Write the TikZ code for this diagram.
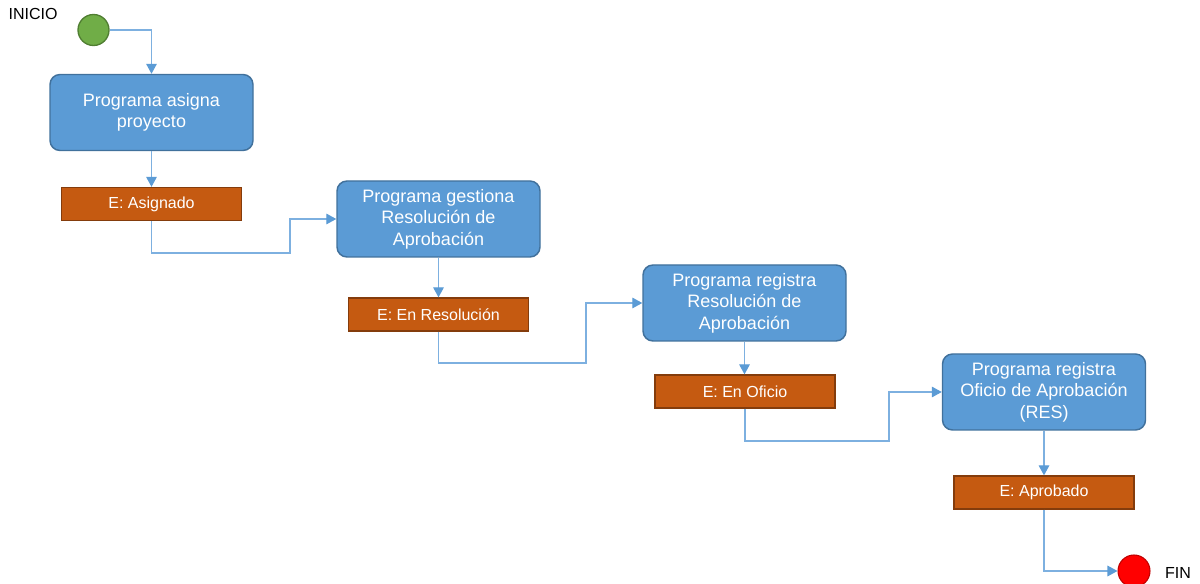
\documentclass[tikz,border=0pt]{standalone}
\usepackage{fontspec}
\setmainfont{Liberation Sans}
\usetikzlibrary{arrows.meta}
\definecolor{boxfill}{HTML}{5B9BD5}
\definecolor{boxline}{HTML}{41719C}
\definecolor{estfill}{HTML}{C55A11}
\definecolor{estline}{HTML}{843C0C}
\definecolor{conn}{HTML}{7DB0E0}
\definecolor{conntip}{HTML}{5B9BD5}
\definecolor{startfill}{HTML}{70AD47}
\definecolor{startline}{HTML}{507E32}
\definecolor{endfill}{HTML}{FF0000}
\definecolor{endline}{HTML}{C00000}
\tikzset{
  procbox/.style={draw=boxline, fill=boxfill, line width=1.1pt, rounded corners=7.5pt,
    minimum width=152.25pt, minimum height=57pt, align=center, text=white,
    font=\fontsize{13.5}{16.2}\selectfont, inner sep=0pt},
  estbox/.style={draw=estline, fill=estfill, line width=1pt,
    minimum width=135pt, minimum height=24.75pt, align=center, text=white,
    font=\fontsize{12}{14}\selectfont, inner sep=0pt},
  conline/.style={draw=conn, line width=0.8pt, -{Triangle[width=8pt,length=7.5pt,color=conntip]}},
  lbl/.style={font=\fontsize{12}{14}\selectfont, text=black, inner sep=0pt}
}
\begin{document}
\begin{tikzpicture}[x=0.75pt,y=-0.75pt]
\useasboundingbox (0,0) rectangle (1200,584);
\node[circle, draw=startline, fill=startfill, line width=1pt, minimum size=23.25pt, inner sep=0pt] (start) at (93.5,30) {};
\node[lbl] (inicio) at (33,14) {INICIO};
\node[procbox] (b1) at (151.5,112.5) {Programa asigna\\proyecto};
\node[estbox] (e1) at (151.5,204) {E: Asignado};
\node[procbox] (b2) at (438.5,219) {Programa gestiona\\Resolución de\\Aprobación};
\node[estbox] (e2) at (438.5,314.5) {E: En Resolución};
\node[procbox] (b3) at (744.5,303) {Programa registra\\Resolución de\\Aprobación};
\node[estbox] (e3) at (745,391.5) {E: En Oficio};
\node[procbox] (b4) at (1044,392) {Programa registra\\Oficio de Aprobación\\(RES)};
\node[estbox] (e4) at (1044,492.5) {E: Aprobado};
\node[circle, draw=endline, fill=endfill, line width=0.8pt, minimum size=24pt, inner sep=0pt] (fin) at (1134,571) {};
\node[lbl] (finl) at (1178,573) {FIN};
\coordinate (k1) at (290,253);
\coordinate (k2) at (586,363);
\coordinate (k3) at (889,441);
\draw[conline] (start) -| (b1.north);
\draw[conline] (b1) -- (e1);
\draw[conline] (e1.south) |- (k1) |- (b2.west);
\draw[conline] (b2) -- (e2);
\draw[conline] (e2.south) |- (k2) |- (b3.west);
\draw[conline] (b3) -- (e3.north -| b3.south);
\draw[conline] (e3.south) |- (k3) |- (b4.west);
\draw[conline] (b4) -- (e4);
\draw[conline] (e4.south) |- (fin.west);
\end{tikzpicture}
\end{document}
